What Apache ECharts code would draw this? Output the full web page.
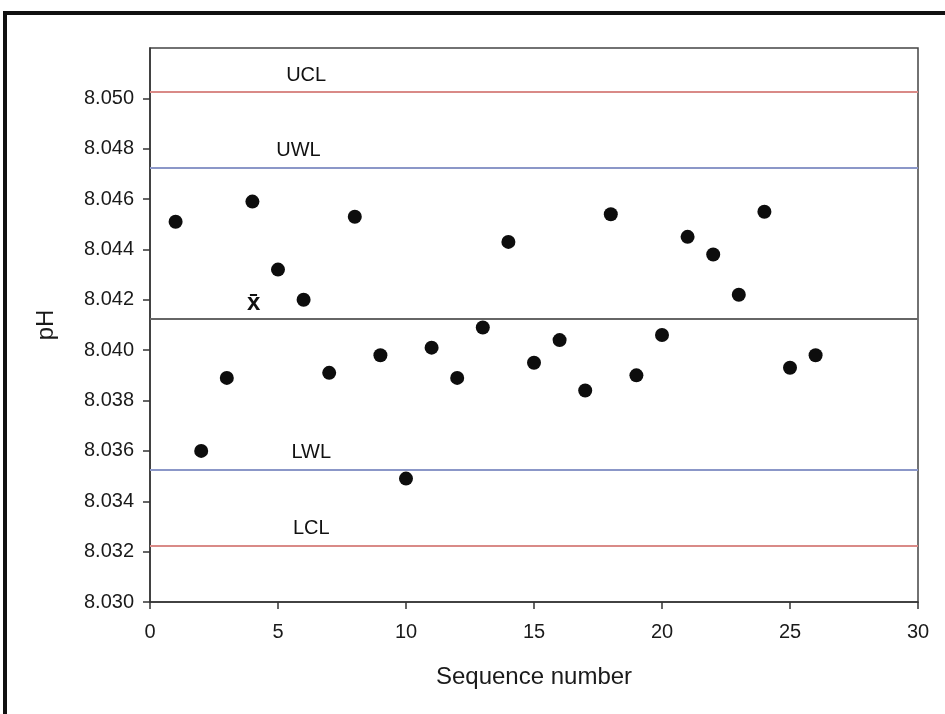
<!DOCTYPE html>
<html>
<head>
<meta charset="utf-8">
<script src="https://cdn.jsdelivr.net/npm/echarts@6/dist/echarts.min.js"></script>
<style>
html,body{margin:0;padding:0;background:#fff;}
#chart{width:945px;height:714px;}
</style>
</head>
<body>
<div id="chart"></div>
<script>
// Data
var sequence = [1,2,3,4,5,6,7,8,9,10,11,12,13,14,15,16,17,18,19,20,21,22,23,24,25,26];
var pH = [8.0451,8.0360,8.0389,8.0459,8.0432,8.0420,8.0391,8.0453,8.0398,8.0349,
          8.0401,8.0389,8.0409,8.0443,8.0395,8.0404,8.0384,8.0454,8.0390,8.0406,
          8.0445,8.0438,8.0422,8.0455,8.0393,8.0398];
var limitNames = ['UCL','UWL','x̄','LWL','LCL'];
var limitValues = [8.05025, 8.04725, 8.04125, 8.03525, 8.03225];
var limitLabelX = [6.1, 5.8, 4.05, 6.3, 6.3];
var xTicks = {min:0, max:30, interval:5};
var yTicks = {min:8.030, max:8.052, interval:0.002};

var limitColors = ['#d98a87','#8b97c8','#666666','#8b97c8','#d98a87'];
var FONT = 'Liberation Sans, Arial, sans-serif';

var chart = echarts.init(document.getElementById('chart'));

var markData = limitValues.map(function(v,i){
  return {yAxis:v, lineStyle:{color:limitColors[i], width:2, type:'solid', opacity:1}};
});

var labelData = limitValues.map(function(v,i){
  return {name:limitNames[i], value:[limitLabelX[i], v],
    label: i===2 ? {fontWeight:'bold', fontSize:24, distance:3} : {}};
});

var option = {
  animation:false,
  backgroundColor:'#fff',
  textStyle:{fontFamily:FONT},
  graphic:[{
    type:'rect', silent:true,
    shape:{x:5, y:13, width:1000, height:800},
    style:{fill:'none', stroke:'#111', lineWidth:4}
  }],
  grid:{left:150, top:48, right:27, bottom:112, show:true, borderColor:'#444', borderWidth:1.5, backgroundColor:'transparent'},
  xAxis:{
    type:'value', min:xTicks.min, max:xTicks.max, interval:xTicks.interval,
    name:'Sequence number', nameLocation:'middle', nameGap:63,
    nameTextStyle:{fontSize:24, color:'#1a1a1a', fontFamily:FONT},
    axisLine:{show:true, lineStyle:{color:'#333', width:1.5}},
    axisTick:{show:true, length:7, lineStyle:{color:'#333', width:1.5}},
    axisLabel:{fontSize:20, color:'#1a1a1a', margin:20, fontFamily:FONT},
    splitLine:{show:false}
  },
  yAxis:{
    type:'value', min:yTicks.min, max:yTicks.max, interval:yTicks.interval,
    name:'pH', nameLocation:'middle', nameGap:92,
    nameTextStyle:{fontSize:24, color:'#1a1a1a', fontFamily:FONT},
    axisLine:{show:true, lineStyle:{color:'#333', width:1.5}},
    axisTick:{show:true, length:7, lineStyle:{color:'#333', width:1.5}},
    axisLabel:{fontSize:20, color:'#1a1a1a', margin:16, showMaxLabel:false, fontFamily:FONT,
      formatter:function(v){return v.toFixed(3);}},
    splitLine:{show:false}
  },
  series:[
    {
      type:'scatter', name:'limits',
      data:labelData,
      symbolSize:0, silent:true,
      itemStyle:{opacity:1, color:'#111'},
      label:{show:true, position:'top', distance:7, formatter:'{b}', fontSize:20, color:'#111',
        fontFamily:FONT},
      markLine:{
        silent:true, symbol:['none','none'], label:{show:false}, precision:6,
        emphasis:{disabled:true},
        data:markData
      },
      z:1
    },
    {
      type:'scatter', name:'pH',
      data:sequence.map(function(s,i){return [s,pH[i]];}),
      symbol:'circle', symbolSize:14,
      itemStyle:{color:'#0d0d0d', opacity:1},
      z:5
    }
  ]
};
chart.setOption(option);
</script>
</body>
</html>
